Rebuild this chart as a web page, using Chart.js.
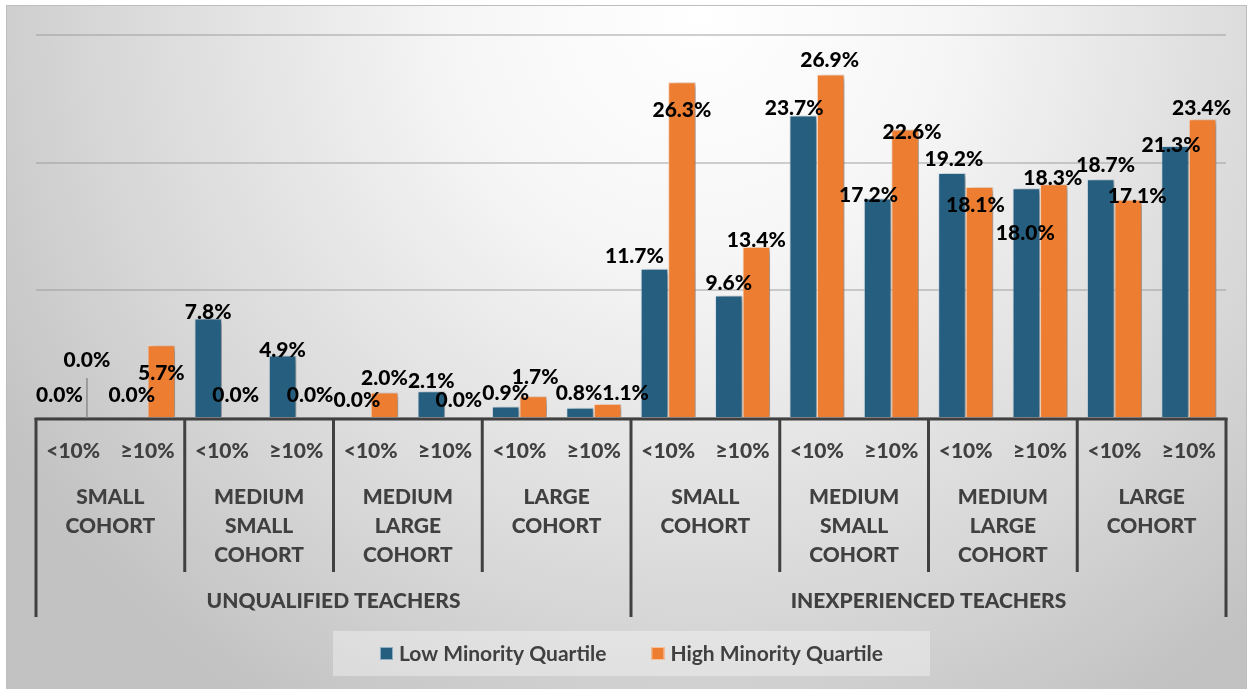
<!DOCTYPE html>
<html>
<head>
<meta charset="utf-8">
<script src="https://cdn.jsdelivr.net/npm/chart.js@4.4.1/dist/chart.umd.min.js"></script>
<style>
  html, body { margin: 0; padding: 0; background: #ffffff; }
  canvas { display: block; }
</style>
</head>
<body>
<canvas id="TeacherChart" width="1253" height="689"></canvas>
<script>
// chart data
const teacherTypes = ["UNQUALIFIED TEACHERS", "INEXPERIENCED TEACHERS"];
const cohorts = [["SMALL", "COHORT"], ["MEDIUM", "SMALL", "COHORT"], ["MEDIUM", "LARGE", "COHORT"], ["LARGE", "COHORT"]];
const minorityLevels = ["<10%", "\u226510%"];
const seriesNames = ["Low Minority Quartile", "High Minority Quartile"];

const lowMinority = [0.0, 0.0, 7.8, 4.9, 0.0, 2.1, 0.9, 0.8, 11.7, 9.6, 23.7, 17.2, 19.2, 18.0, 18.7, 21.3];
const highMinority = [0.0, 5.7, 0.0, 0.0, 2.0, 0.0, 1.7, 1.1, 26.3, 13.4, 26.9, 22.6, 18.1, 18.3, 17.1, 23.4];

// label nudges (px) so the value labels sit where the original had them
const lowNudge = [[0, -13], [-2, -13], [0, 4], [0, 5], [0, -8], [0, 0], [0, -3], [-1, -5],
	[-20, -2], [0, -2], [-9, 3], [-9, 7], [2, -4], [-1, 55], [5, -4], [-4, 9]];
const highNudge = [[0, -48], [0, 38], [0, -13], [0, -13], [0, -4], [0, -8], [2, -9], [18, -1],
	[0, 38], [0, 3], [-1, -4], [7, 13], [-4, 28], [-1, 4], [9, 7], [-1, -1]];

const BLUE = "#255e7e";
const ORANGE = "#ed7d31";
const AXIS_COLOR = "#404040";
const FONT = "Lato, 'Open Sans', sans-serif";

let categories = [];
for (let t = 0; t < teacherTypes.length; t++) {
	for (let c = 0; c < cohorts.length; c++) {
		for (let l = 0; l < minorityLevels.length; l++) {
			categories.push(teacherTypes[t] + " / " + cohorts[c].join(" ") + " / " + minorityLevels[l]);
		}
	}
}

const backgroundPlugin = {
	id: "background",
	beforeDraw(chart) {
		const ctx = chart.ctx;
		ctx.save();
		const grad = ctx.createRadialGradient(700, 10, 0, 700, 10, 820);
		grad.addColorStop(0, "#ffffff");
		grad.addColorStop(0.3, "#f6f6f6");
		grad.addColorStop(0.75, "#d6d6d6");
		grad.addColorStop(1, "#c2c2c2");
		ctx.fillStyle = grad;
		ctx.fillRect(6, 5, 1241, 684);
		ctx.strokeStyle = "#bdbdbd";
		ctx.lineWidth = 1;
		ctx.strokeRect(6.5, 5.5, 1240, 690);
		ctx.restore();
	},
};

const shadowPlugin = {
	id: "barShadow",
	beforeDatasetsDraw(chart) {
		const ctx = chart.ctx;
		ctx.save();
		ctx.shadowColor = "rgba(0, 0, 0, 0.38)";
		ctx.shadowBlur = 6;
		ctx.shadowOffsetX = 4;
		ctx.shadowOffsetY = 2;
	},
	afterDatasetsDraw(chart) {
		chart.ctx.restore();
	},
};

const axisPlugin = {
	id: "groupAxis",
	afterDraw(chart) {
		const ctx = chart.ctx;
		const xs = chart.scales.x;
		const area = chart.chartArea;
		const step = xs.getPixelForValue(1) - xs.getPixelForValue(0);
		const leftOf = (i) => xs.getPixelForValue(i) - step / 2;
		const bottom = area.bottom;
		const n = categories.length;

		ctx.save();
		ctx.strokeStyle = AXIS_COLOR;
		ctx.lineWidth = 3;
		ctx.lineCap = "butt";

		// baseline
		ctx.beginPath();
		ctx.moveTo(leftOf(0) - 1.5, bottom + 1);
		ctx.lineTo(leftOf(n - 1) + step + 1.5, bottom + 1);
		ctx.stroke();

		// separators
		const perType = cohorts.length * minorityLevels.length;
		for (let k = 0; k <= n; k += minorityLevels.length) {
			const x = k < n ? leftOf(k) : leftOf(n - 1) + step;
			const len = k % perType === 0 ? 199 : 154;
			ctx.beginPath();
			ctx.moveTo(x, bottom);
			ctx.lineTo(x, bottom + len);
			ctx.stroke();
		}

		ctx.fillStyle = AXIS_COLOR;
		ctx.textAlign = "center";
		ctx.textBaseline = "middle";
		ctx.font = "900 21px " + FONT;

		// level labels
		for (let i = 0; i < n; i++) {
			ctx.fillText(minorityLevels[i % minorityLevels.length], xs.getPixelForValue(i), bottom + 33);
		}

		// cohort labels
		for (let k = 0; k < n / minorityLevels.length; k++) {
			const lines = cohorts[k % cohorts.length];
			const cx = leftOf(k * minorityLevels.length) + step;
			for (let j = 0; j < lines.length; j++) {
				ctx.fillText(lines[j], cx, bottom + 79 + j * 29);
			}
		}

		// teacher type labels
		for (let t = 0; t < teacherTypes.length; t++) {
			const cx = leftOf(t * perType) + (perType * step) / 2;
			ctx.fillText(teacherTypes[t], cx, bottom + 183);
		}
		ctx.restore();
	},
};

const valueLabelPlugin = {
	id: "valueLabels",
	afterDraw(chart) {
		const ctx = chart.ctx;
		const nudges = [lowNudge, highNudge];
		ctx.save();
		ctx.font = "900 21px " + FONT;
		ctx.fillStyle = "#000000";
		ctx.textAlign = "center";
		ctx.textBaseline = "middle";
		chart.data.datasets.forEach(function (ds, d) {
			const meta = chart.getDatasetMeta(d);
			meta.data.forEach(function (bar, i) {
				const nd = nudges[d][i];
				const lx = bar.x + nd[0];
				const ly = bar.y - 10 + nd[1];
				if (nd[1] < -30) {
					// leader line, label was pulled away from its bar
					ctx.strokeStyle = "#8c8c8c";
					ctx.lineWidth = 1.5;
					ctx.beginPath();
					ctx.moveTo(bar.x, ly + 18);
					ctx.lineTo(bar.x, bar.y);
					ctx.stroke();
				}
				ctx.fillText(ds.data[i].toFixed(1) + "%", lx, ly);
			});
		});
		ctx.restore();
	},
};

const legendPlugin = {
	id: "boxLegend",
	afterDraw(chart) {
		const ctx = chart.ctx;
		const colors = [BLUE, ORANGE];
		const borders = ["#8fb0c4", "#f7c19c"];
		const box = { x: 333, y: 631, w: 597, h: 45 };
		ctx.save();
		ctx.fillStyle = "rgba(255, 255, 255, 0.35)";
		ctx.fillRect(box.x, box.y, box.w, box.h);

		ctx.font = "bold 21px " + FONT;
		ctx.textBaseline = "middle";
		ctx.textAlign = "left";
		const swatch = 13;
		const gap = 6;
		const spacing = 45;
		let total = 0;
		const widths = seriesNames.map((s) => ctx.measureText(s).width);
		widths.forEach((w) => (total += swatch + gap + w));
		total += spacing * (seriesNames.length - 1);
		let x = box.x + (box.w - total) / 2;
		const cy = box.y + box.h / 2;
		seriesNames.forEach(function (name, i) {
			ctx.fillStyle = colors[i];
			ctx.fillRect(x, cy - swatch / 2, swatch, swatch);
			ctx.strokeStyle = borders[i];
			ctx.lineWidth = 1;
			ctx.strokeRect(x + 0.5, cy - swatch / 2 + 0.5, swatch - 1, swatch - 1);
			ctx.fillStyle = AXIS_COLOR;
			ctx.fillText(name, x + swatch + gap, cy + 1);
			x += swatch + gap + widths[i] + spacing;
		});
		ctx.restore();
	},
};

const chart = new Chart(document.getElementById("TeacherChart").getContext("2d"), {
	type: "bar",
	data: {
		labels: categories,
		datasets: [
			{
				label: seriesNames[0],
				data: lowMinority,
				backgroundColor: BLUE,
				borderColor: "rgba(200, 220, 235, 0.6)",
				borderWidth: 1,
			},
			{
				label: seriesNames[1],
				data: highMinority,
				backgroundColor: ORANGE,
				borderColor: "rgba(255, 215, 185, 0.8)",
				borderWidth: 1,
			},
		],
	},
	options: {
		responsive: false,
		animation: false,
		layout: {
			padding: { left: 36, right: 27, top: 35, bottom: 271 },
		},
		datasets: {
			bar: {
				categoryPercentage: 0.74,
				barPercentage: 1.0,
			},
		},
		scales: {
			x: {
				display: false,
			},
			y: {
				min: 0,
				max: 30,
				ticks: { display: false, stepSize: 10 },
				border: { display: false },
				grid: {
					color: "rgba(150, 150, 150, 0.45)",
					lineWidth: 2,
					drawTicks: false,
				},
			},
		},
		plugins: {
			legend: { display: false },
			tooltip: { enabled: false },
		},
	},
	plugins: [backgroundPlugin, shadowPlugin, axisPlugin, valueLabelPlugin, legendPlugin],
});
</script>
</body>
</html>
